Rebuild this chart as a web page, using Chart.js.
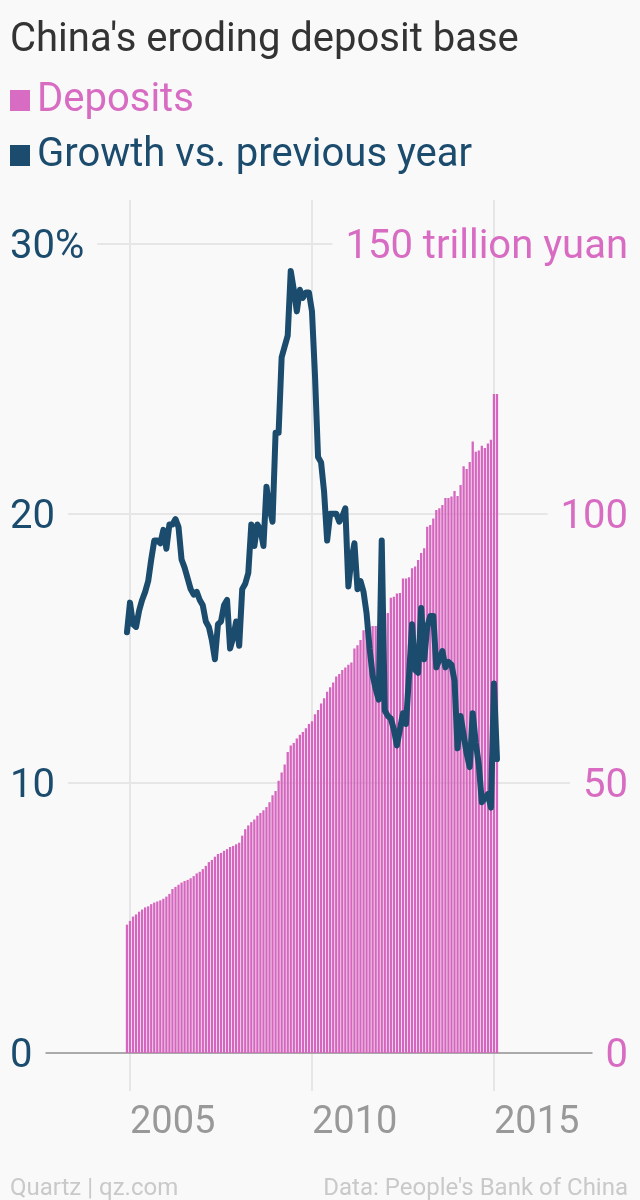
<!DOCTYPE html>
<html>
<head>
<meta charset="utf-8">
<script src="https://cdn.jsdelivr.net/npm/chart.js@4.4.1/dist/chart.umd.min.js"></script>
<style>
  html, body { margin: 0; padding: 0; background: #f9f9f9; }
  body { width: 640px; height: 1200px; position: relative; overflow: hidden; font-family: Roboto, sans-serif; }
  canvas { position: absolute; left: 0; top: 0; }
  .txt { position: absolute; white-space: nowrap; line-height: 1; }
  #title { left: 10px; top: 18px; font-size: 40px; color: #333; }
  .key { left: 10px; font-size: 40px; }
  .key i { display: inline-block; width: 20px; height: 21px; margin-right: 7px; }
  #k1 { top: 78px; color: #d86bc2; }
  #k1 i { background: #d86bc2; }
  #k2 { top: 133px; color: #1b4b6d; }
  #k2 i { background: #1b4b6d; }
  .foot { top: 1175px; font-size: 24px; color: #c9c9c9; }
</style>
</head>
<body>
<canvas id="chart" width="640" height="1200"></canvas>
<div id="title" class="txt">China's eroding deposit base</div>
<div id="k1" class="txt key"><i></i>Deposits</div>
<div id="k2" class="txt key"><i></i>Growth vs. previous year</div>
<div class="txt foot" style="left:10px">Quartz | qz.com</div>
<div class="txt foot" style="right:12px">Data: People's Bank of China</div>
<script>
// monthly, Dec 2004 .. Feb 2015 (x = months after Jan 2005)
const FIRST_MONTH = -1;

// deposits, trillion yuan
const deposits = [
  23.8, 24.5, 25.3, 25.7, 26.2, 26.6, 27.0, 27.2, 27.6, 27.9, 28.1, 28.3, 28.6,
  29.0, 29.5, 30.4, 30.8, 31.2, 31.6, 31.9, 32.1, 32.4, 32.8, 33.3, 33.6,
  34.1, 34.7, 35.4, 35.8, 36.4, 36.9, 37.1, 37.5, 37.8, 38.2, 38.4, 38.7,
  39.0, 40.3, 41.5, 42.2, 42.8, 43.3, 44.0, 44.5, 45.0, 45.6, 46.5, 47.8,
  48.6, 50.5, 52.0, 53.5, 55.8, 57.0, 57.5, 58.3, 59.0, 59.5, 60.2, 61.0,
  61.5, 62.8, 63.6, 64.8, 65.8, 67.0, 67.8, 68.7, 69.8, 70.3, 71.0, 71.5,
  72.0, 72.4, 75.0, 75.6, 76.6, 78.4, 78.6, 79.0, 79.2, 79.2, 79.5, 81.6,
  81.5, 81.6, 84.4, 84.6, 85.2, 85.3, 88.0, 88.0, 88.2, 89.9, 90.2, 91.4,
  92.7, 93.6, 97.6, 97.9, 99.1, 100.7, 101.0, 101.6, 102.9, 102.9, 103.2, 104.2,
  103.3, 105.3, 108.8, 108.3, 109.6, 113.4, 111.5, 111.7, 112.6, 112.2, 113.0, 113.7,
  122.2, 122.2
];

// growth vs previous year, %
const growth = [
  15.6, 16.7, 15.9, 15.8, 16.4, 16.8, 17.1, 17.5, 18.3, 19.0, 19.0, 18.9, 19.4,
  18.7, 19.6, 19.6, 19.8, 19.5, 18.3, 18.0, 17.6, 17.2, 17.0, 17.1, 16.8,
  16.6, 16.0, 15.8, 15.3, 14.6, 15.9, 16.0, 16.6, 16.8, 15.0, 15.4, 16.0,
  15.1, 17.2, 17.4, 17.8, 19.6, 18.8, 19.6, 19.4, 18.8, 21.0, 20.2, 19.7,
  23.0, 23.0, 25.8, 26.2, 26.6, 29.0, 28.3, 27.5, 28.3, 28.0, 28.2, 28.2,
  27.5, 25.1, 22.1, 21.9, 20.8, 19.0, 20.0, 20.0, 20.0, 19.7, 19.9, 20.2,
  17.3, 18.3, 18.9, 17.2, 17.5, 17.1, 16.3, 15.0, 14.0, 13.5, 13.1, 19.0,
  12.7, 12.5, 12.4, 12.0, 11.4, 12.0, 12.6, 12.2, 14.0, 15.9, 14.2, 14.1,
  16.5, 14.6, 15.8, 16.2, 16.2, 14.3, 14.6, 14.9, 14.3, 14.5, 14.4, 13.8,
  11.3, 12.5, 11.8, 11.1, 10.6, 12.6, 11.5, 10.7, 9.3, 9.45, 9.6, 9.1,
  13.7, 10.9
];

const yearTicks = [0, 60, 120];
const yearLabels = ["2005", "2010", "2015"];
const leftTicks = [0, 10, 20, 30];
const leftLabels = ["0", "10", "20", "30%"];
const rightTicks = [0, 50, 100, 150];
const rightLabels = ["0", "50", "100", "150 trillion yuan"];

const PINK = "#d86bc2";
const BAR_PINK = "#d565be";
const BLUE = "#1b4b6d";

const months = deposits.map((d, i) => FIRST_MONTH + i);

// labels + gridlines cut short around the labels, like the original
const axisText = {
  id: "axisText",
  beforeDatasetsDraw(chart) {
    const c = chart.ctx;
    const yl = chart.scales.yL;
    const yr = chart.scales.yR;
    c.save();
    c.font = "40px Roboto";
    c.textBaseline = "alphabetic";
    for (let k = 0; k < leftTicks.length; k++) {
      const y = Math.round(yl.getPixelForValue(leftTicks[k]));
      const lw = c.measureText(leftLabels[k]).width;
      const rw = c.measureText(rightLabels[k]).width;
      c.strokeStyle = k === 0 ? "#aaaaaa" : "#e6e6e6";
      c.lineWidth = 2;
      c.beginPath();
      c.moveTo(10 + lw + 13, y);
      c.lineTo(628 - rw - 13, y);
      c.stroke();
      c.fillStyle = BLUE;
      c.textAlign = "left";
      c.fillText(leftLabels[k], 10, y + 14);
      c.fillStyle = PINK;
      c.textAlign = "right";
      c.fillText(rightLabels[k], 628, yr.getPixelForValue(rightTicks[k]) + 14);
    }
    c.restore();
  },
  afterDraw(chart) {
    const c = chart.ctx;
    const x = chart.scales.x;
    c.save();
    c.font = "38px Roboto";
    c.fillStyle = "#999999";
    c.textAlign = "left";
    yearTicks.forEach((v, k) => {
      c.fillText(yearLabels[k], x.getPixelForValue(v), 1133);
    });
    c.restore();
  },
};

new Chart(document.getElementById("chart"), {
  type: "bar",
  data: {
    datasets: [
      {
        type: "line",
        label: "Growth vs. previous year",
        data: months.map((m, i) => ({ x: m, y: growth[i] })),
        yAxisID: "yL",
        borderColor: BLUE,
        borderWidth: 6,
        pointRadius: 0,
        tension: 0,
        borderJoinStyle: "round",
        borderCapStyle: "round",
        order: 0,
      },
      {
        type: "bar",
        label: "Deposits",
        data: months.map((m, i) => ({ x: m, y: deposits[i] })),
        yAxisID: "yR",
        backgroundColor: BAR_PINK,
        barPercentage: 0.75,
        categoryPercentage: 1,
        order: 1,
      },
    ],
  },
  options: {
    responsive: false,
    animation: false,
    layout: { padding: { top: 200, left: 0, right: 0, bottom: 0 } },
    plugins: { legend: { display: false }, tooltip: { enabled: false } },
    scales: {
      x: {
        type: "linear",
        min: -42.86,
        max: 168.15,
        offset: false,
        grid: { offset: false, color: "#e6e6e6", lineWidth: 2, tickLength: 38 },
        border: { display: false },
        ticks: { display: false },
        afterBuildTicks: (s) => { s.ticks = yearTicks.map((v) => ({ value: v })); },
        afterFit: (s) => { s.height = 147; },
      },
      yL: { position: "left", display: false, min: 0, max: 31.63 },
      yR: { position: "right", display: false, min: 0, max: 158.17 },
    },
  },
  plugins: [axisText],
});
</script>
</body>
</html>
